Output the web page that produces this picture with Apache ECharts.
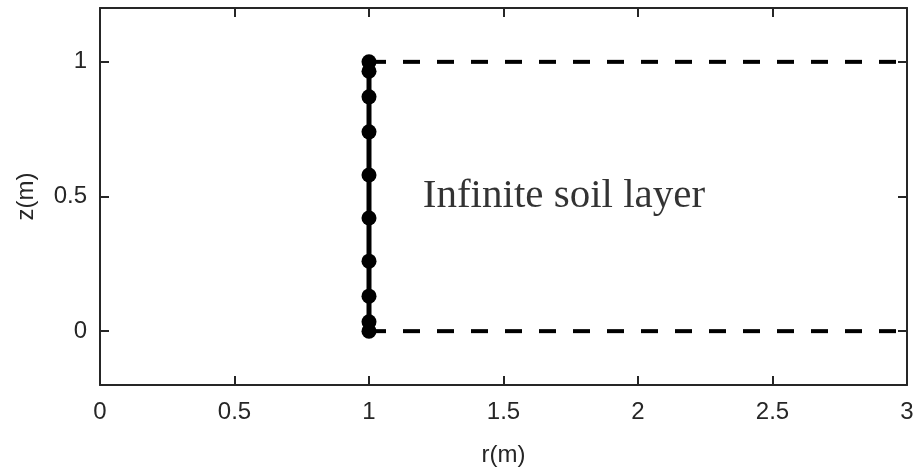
<!DOCTYPE html>
<html>
<head>
<meta charset="utf-8">
<script src="https://cdn.jsdelivr.net/npm/echarts@6/dist/echarts.min.js"></script>
<style>
  html, body { margin: 0; padding: 0; background: #fff; }
  #chart { width: 917px; height: 475px; }
</style>
</head>
<body>
<div id="chart"></div>
<script>
// pile nodes along z at r = 1
const pileR = 1
const pileZ = [0, 0.035, 0.13, 0.26, 0.42, 0.58, 0.74, 0.87, 0.965, 1]
// soil layer boundaries (dashed)
const boundaryR = [1, 3]
const topZ = 1
const bottomZ = 0
// axis ticks
const xTicks = [0, 0.5, 1, 1.5, 2, 2.5, 3]
const yTicks = [0, 0.5, 1]
const layerLabel = 'Infinite soil layer'
const labelPos = [1.2, 0.5]

const axisColor = '#262626'
const tickFont = { fontFamily: 'Liberation Sans', fontSize: 24, color: axisColor }

const chart = echarts.init(document.getElementById('chart'))

function boxAxis(pos, min, max, ticks, showLabel) {
  return {
    type: 'value',
    position: pos,
    min: min,
    max: max,
    axisLine: { show: true, onZero: false, lineStyle: { color: axisColor, width: 2 } },
    axisTick: { show: true, inside: true, length: 9, lineStyle: { color: axisColor, width: 2 }, customValues: ticks },
    axisLabel: Object.assign({ show: showLabel, customValues: ticks }, tickFont),
    splitLine: { show: false }
  }
}

const xBottom = boxAxis('bottom', 0, 3, xTicks, true)
xBottom.axisLabel.margin = 15
xBottom.name = 'r(m)'
xBottom.nameLocation = 'middle'
xBottom.nameGap = 58
xBottom.nameTextStyle = { fontFamily: 'Liberation Sans', fontSize: 24, color: axisColor }

const yLeft = boxAxis('left', -0.2, 1.2, yTicks, true)
yLeft.axisLabel.margin = 13
yLeft.name = 'z(m)'
yLeft.nameLocation = 'middle'
yLeft.nameGap = 62
yLeft.nameTextStyle = { fontFamily: 'Liberation Sans', fontSize: 24, color: axisColor }

chart.setOption({
  animation: false,
  grid: { left: 100, right: 10, top: 8, bottom: 90, outerBoundsMode: 'none' },
  xAxis: [xBottom, boxAxis('top', 0, 3, xTicks, false)],
  yAxis: [yLeft, boxAxis('right', -0.2, 1.2, yTicks, false)],
  series: [
    {
      type: 'line',
      data: boundaryR.map(r => [r, topZ]),
      symbol: 'none',
      lineStyle: { color: '#000', width: 4, type: [17, 17] },
      z: 2
    },
    {
      type: 'line',
      data: boundaryR.map(r => [r, bottomZ]),
      symbol: 'none',
      lineStyle: { color: '#000', width: 4, type: [17, 17] },
      z: 2
    },
    {
      type: 'line',
      data: pileZ.map(z => [pileR, z]),
      symbol: 'circle',
      symbolSize: 15,
      itemStyle: { color: '#000' },
      lineStyle: { color: '#000', width: 5 },
      z: 3
    },
    {
      type: 'scatter',
      data: [labelPos],
      symbolSize: 0,
      label: {
        show: true,
        position: 'right',
        distance: 0,
        formatter: layerLabel,
        fontFamily: 'Liberation Serif',
        fontSize: 41,
        color: '#000'
      }
    }
  ]
})
</script>
</body>
</html>
